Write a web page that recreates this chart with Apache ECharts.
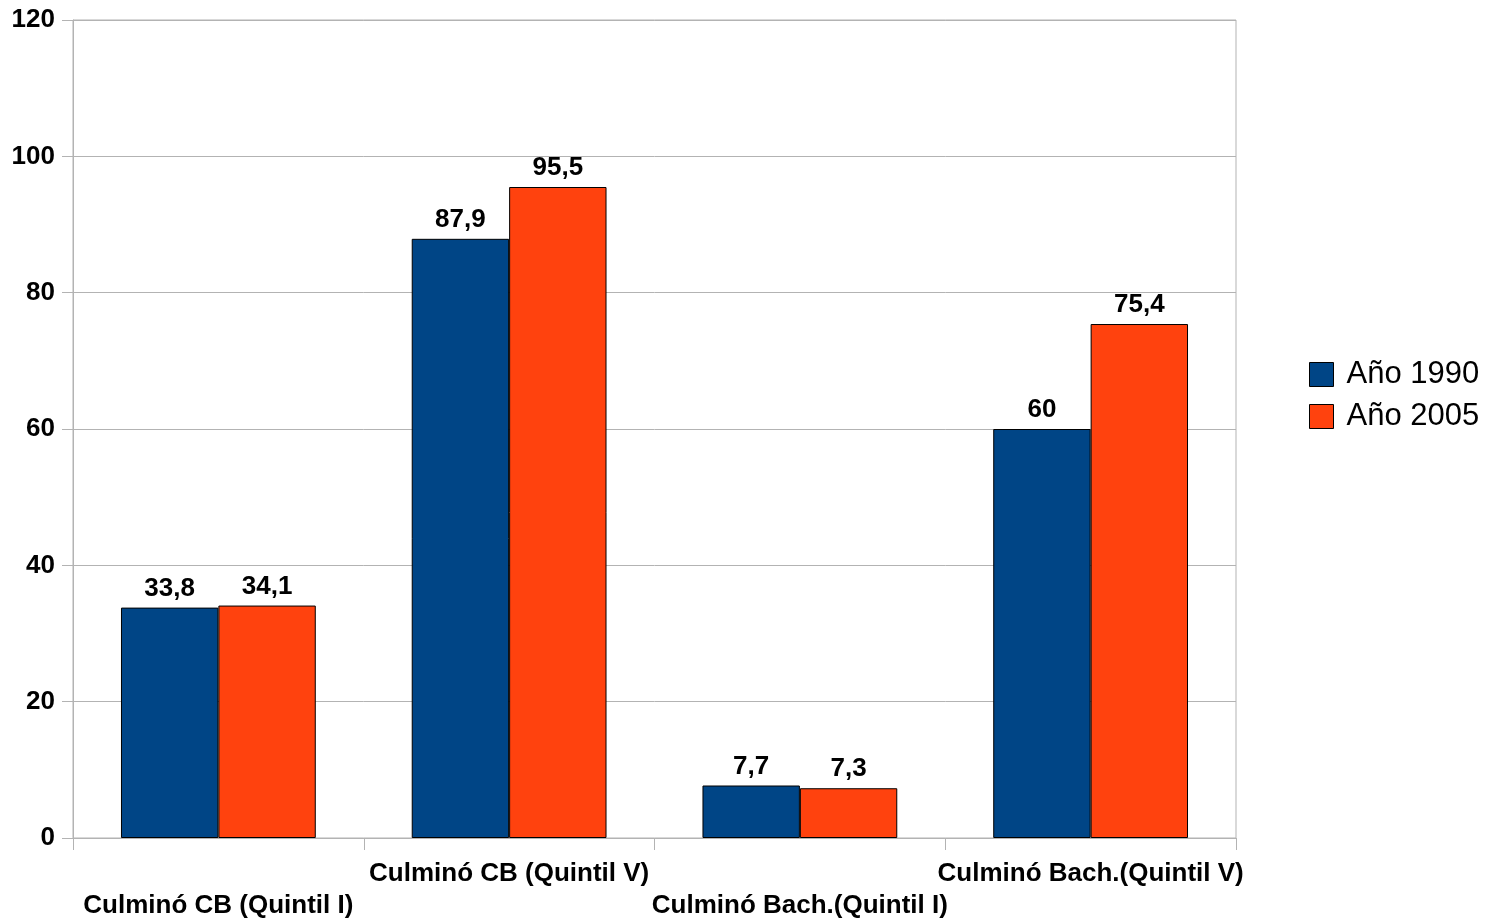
<!DOCTYPE html>
<html><head><meta charset="utf-8">
<script src="https://cdn.jsdelivr.net/npm/echarts@6/dist/echarts.min.js"></script>
<style>html,body{margin:0;padding:0;background:#fff}#c{width:1488px;height:920px}</style>
</head><body><div id="c"></div>
<script>
const categories = ['Culminó CB (Quintil I)', 'Culminó CB (Quintil V)', 'Culminó Bach.(Quintil I)', 'Culminó Bach.(Quintil V)'];
const series1990 = [33.8, 87.9, 7.7, 60];
const series2005 = [34.1, 95.5, 7.3, 75.4];
const seriesNames = ['Año 1990', 'Año 2005'];
const yTicks = {min: 0, max: 120, interval: 20};

const font = 'Liberation Sans';
const chart = echarts.init(document.getElementById('c'));
const lbl = {show: true, position: 'top', fontFamily: font, fontWeight: 'bold', fontSize: 26, color: '#000', distance: 6,
  formatter: p => String(p.value).replace('.', ',')};
chart.setOption({
  animation: false,
  grid: {left: 73, right: 252, top: 20, bottom: 82, show: true, borderColor: '#b3b3b3', borderWidth: 1,
    containLabel: false, outerBoundsMode: 'none'},
  legend: {
    orient: 'vertical', left: 1304, top: 354, itemWidth: 24, itemHeight: 24, itemGap: 11, icon: 'rect',
    textStyle: {fontFamily: font, fontSize: 31, color: '#000', padding: [0, 0, 0, 8]},
    data: seriesNames.map(n => ({name: n, itemStyle: {borderColor: '#000', borderWidth: 1}}))
  },
  xAxis: {
    type: 'category', data: categories,
    axisLine: {lineStyle: {color: '#b3b3b3'}},
    axisTick: {show: true, length: 12, lineStyle: {color: '#b3b3b3'}},
    axisLabel: {interval: 0, margin: 20, fontFamily: font, fontWeight: 'bold', fontSize: 26, color: '#000', lineHeight: 32,
      formatter: (v, i) => i % 2 === 0 ? '\n' + v : v}
  },
  yAxis: {
    type: 'value', min: yTicks.min, max: yTicks.max, interval: yTicks.interval,
    axisLine: {show: true, lineStyle: {color: '#b3b3b3'}},
    axisTick: {show: true, length: 11, lineStyle: {color: '#b3b3b3'}},
    splitLine: {lineStyle: {color: '#b3b3b3'}},
    axisLabel: {margin: 18, fontFamily: font, fontWeight: 'bold', fontSize: 26, color: '#000'}
  },
  series: [
    {name: seriesNames[0], type: 'bar', data: series1990, barGap: '0%', barCategoryGap: '33%',
      itemStyle: {color: '#004586', borderColor: '#000', borderWidth: 1}, label: lbl},
    {name: seriesNames[1], type: 'bar', data: series2005,
      itemStyle: {color: '#ff420e', borderColor: '#000', borderWidth: 1}, label: lbl}
  ]
});
</script></body></html>
